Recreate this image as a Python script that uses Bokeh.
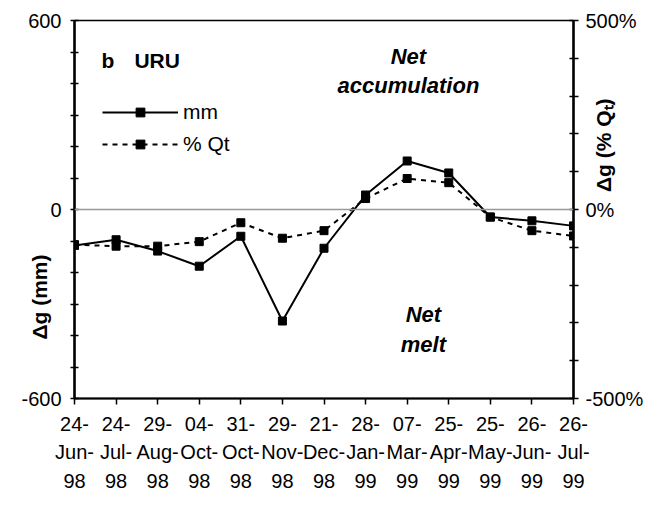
import math
from bokeh.plotting import figure
from bokeh.models import LinearAxis, Range1d, FixedTicker, Span, Label, Legend, LegendItem
from bokeh.embed import file_html
from bokeh.resources import INLINE

dates = ["24-\nJun-\n98", "24-\nJul-\n98", "29-\nAug-\n98", "04-\nOct-\n98", "31-\nOct-\n98",
         "29-\nNov-\n98", "21-\nDec-\n98", "28-\nJan-\n99", "07-\nMar-\n99", "25-\nApr-\n99",
         "25-\nMay-\n99", "26-\nJun-\n99", "26-\nJul-\n99"]
mm = [-114, -96, -132, -180, -85, -354, -123, 46, 154, 116, -24, -36, -52]
pct_qt = [-93, -97, -97, -85, -35, -76, -56, 29, 82, 71, -20, -56, -70]
mm_ticks = list(range(-600, 601, 100))
mm_tick_labels = {-600: "-600", 0: "0", 600: "600"}
pct_ticks = list(range(-500, 501, 100))
pct_tick_labels = {-500: "-500%", 0: "0%", 500: "500%"}

x = list(range(len(dates)))
FONT = "Liberation Sans"
NB = "\u00a0"  # padding shifts the rotated axis titles along their axis

p = figure(width=650, height=494, output_backend="svg", toolbar_location=None,
           x_range=Range1d(0, len(dates) - 1), y_range=Range1d(-600, 600),
           min_border_left=74, min_border_right=77, min_border_top=20, min_border_bottom=90)
p.xgrid.visible = False
p.ygrid.visible = False
p.outline_line_color = "black"
p.outline_line_width = 1.5
p.background_fill_color = "white"

# x axis
p.xaxis.ticker = FixedTicker(ticks=x)
p.xaxis.major_label_overrides = {i: d for i, d in zip(x, dates)}
p.xaxis.major_label_text_font = FONT
p.xaxis.major_label_text_font_size = "20px"
p.xaxis.major_label_text_color = "black"
p.xaxis.major_label_text_line_height = 1.3
p.xaxis.major_label_standoff = 8
p.xaxis.major_tick_in = 0
p.xaxis.major_tick_out = 6
p.xaxis.minor_tick_line_color = None
p.xaxis.axis_line_width = 2
p.xaxis.major_tick_line_width = 1.5

# left axis
p.yaxis.ticker = FixedTicker(ticks=mm_ticks)
p.yaxis.major_label_overrides = {t: mm_tick_labels.get(t, "") for t in mm_ticks}
p.yaxis.major_label_text_font = FONT
p.yaxis.major_label_text_font_size = "20px"
p.yaxis.major_label_text_color = "black"
p.yaxis.major_label_standoff = 9
p.yaxis.major_tick_in = 4
p.yaxis.major_tick_out = 4
p.yaxis.minor_tick_line_color = None
p.yaxis.axis_line_width = 2.5
p.yaxis.major_tick_line_width = 1.5
p.yaxis.axis_label = "Δg (mm)" + NB * 30
p.yaxis.axis_label_text_font = FONT
p.yaxis.axis_label_text_font_size = "21px"
p.yaxis.axis_label_text_font_style = "bold"
p.yaxis.axis_label_text_color = "black"
p.yaxis.axis_label_standoff = -33

# right axis
p.extra_y_ranges = {"pct": Range1d(-500, 500)}
rax = LinearAxis(y_range_name="pct", ticker=FixedTicker(ticks=pct_ticks))
rax.major_label_overrides = {t: pct_tick_labels.get(t, "") for t in pct_ticks}
rax.major_label_text_font = FONT
rax.major_label_text_font_size = "20px"
rax.major_label_text_color = "black"
rax.major_label_standoff = 7
rax.major_tick_in = 4
rax.major_tick_out = 5
rax.minor_tick_line_color = None
rax.axis_line_width = 2.5
rax.major_tick_line_width = 1.5
rax.axis_label = NB * 3 + "Δg (% Qₜ)"
rax.axis_label_text_font = FONT
rax.axis_label_text_font_size = "21px"
rax.axis_label_text_font_style = "bold"
rax.axis_label_text_color = "black"
rax.axis_label_standoff = -43
if "axis_label_orientation" in rax.properties():
    rax.axis_label_orientation = math.pi / 2
p.add_layout(rax, "right")

p.add_layout(Span(location=0, dimension="width", line_color="#999999", line_width=1.5))

l1 = p.line(x, mm, line_color="black", line_width=2)
s1 = p.scatter(x, mm, marker="square", size=8, fill_color="black", line_color="black")
l2 = p.line(x, pct_qt, y_range_name="pct", line_color="black", line_width=2, line_dash="5 5")
s2 = p.scatter(x, pct_qt, y_range_name="pct", marker="square", size=8, fill_color="black", line_color="black")

legend = Legend(items=[LegendItem(label="mm", renderers=[l1, s1]),
                       LegendItem(label="% Qt", renderers=[l2, s2])],
                location=(28, 242), glyph_width=76, glyph_height=22, label_height=22,
                spacing=8, padding=0, margin=0, label_standoff=5,
                background_fill_alpha=0, border_line_color=None,
                label_text_font=FONT, label_text_font_size="21px", label_text_color="black")
p.add_layout(legend)

def lab(text, xx, yy, style="normal", align="center", size="22px"):
    p.add_layout(Label(x=xx, y=yy, text=text, text_font=FONT, text_font_size=size,
                       text_font_style=style, text_align=align, text_baseline="middle",
                       text_color="black"))

lab("b", 0.65, 472, style="bold", align="left", size="21px")
lab("URU", 1.44, 472, style="bold", align="left", size="21px")
lab("Net", 8.03, 487, style="bold italic")
lab("accumulation", 8.03, 394, style="bold italic")
lab("Net", 8.39, -334, style="bold italic")
lab("melt", 8.39, -428, style="bold italic")

open("out.html", "w").write(file_html(p, INLINE))
